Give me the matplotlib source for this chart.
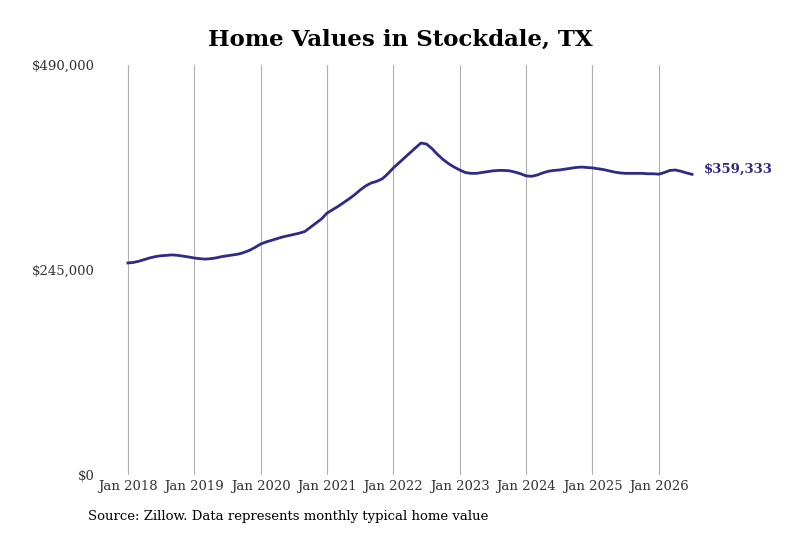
import matplotlib.pyplot as plt
import numpy as np

v2018 = [253.4, 254, 255.5, 257.5, 259.5, 261, 262, 262.5, 263, 262.5, 261.5, 260.5]
v2019 = [259.3, 258.5, 258, 258.5, 259.5, 261, 262, 263, 264, 266, 268.5, 272]
v2020 = [276, 278.5, 280.5, 282.5, 284.5, 286, 287.5, 289, 291, 296, 301, 306]
v2021 = [313, 317, 321, 325.5, 330, 335, 340.6, 345.5, 349, 351, 354, 360]
v2022 = [367, 373, 379, 385, 391, 396.8, 395.5, 390, 383, 377, 372, 368]
v2023 = [364.5, 361.5, 360.5, 360.5, 361.5, 362.5, 363.5, 364, 364, 363.5, 362, 360]
v2024 = [357.5, 357, 358.5, 361, 363, 364, 364.5, 365.5, 366.5, 367.5, 368, 367.5]
v2025 = [367, 366, 365, 363.5, 362, 361, 360.5, 360.5, 360.5, 360.5, 360, 360]
v2026 = [359.5, 361.5, 364, 364.5, 363, 361, 359.333]

values = np.array(v2018 + v2019 + v2020 + v2021 + v2022 + v2023 + v2024 + v2025 + v2026) * 1000
t = 2018 + np.arange(len(values)) / 12.0
years = list(range(2018, 2027))

plt.rcParams['font.family'] = 'DejaVu Serif'
fig, ax = plt.subplots(figsize=(8, 5.33), dpi=100)
fig.subplots_adjust(left=0.125, right=0.875, top=0.878, bottom=0.109)

color = '#2e2a86'
ax.plot(t, values, color=color, lw=2)
ax.text(t[-1] + 0.18, values[-1] + 6000, '${:,.0f}'.format(values[-1]), color=color,
        fontsize=9.5, fontweight='bold', va='center', ha='left')

ax.set_ylim(0, 490000)
ax.set_yticks([0, 245000, 490000])
ax.set_yticklabels(['$0', '$245,000', '$490,000'])
ax.set_xlim(2017.58, 2026.62)
ax.set_xticks(years)
ax.set_xticklabels(['Jan %d' % y for y in years])
ax.grid(axis='x', color='#b0b0b0', lw=0.8)
ax.tick_params(length=0, labelsize=9.5, colors='#333333')
for s in ax.spines.values():
    s.set_visible(False)

ax.set_title('Home Values in Stockdale, TX', fontsize=16.5, fontweight='bold', pad=14)
fig.text(0.11, 0.025, 'Source: Zillow. Data represents monthly typical home value', fontsize=9.5)

plt.savefig('out.png')
